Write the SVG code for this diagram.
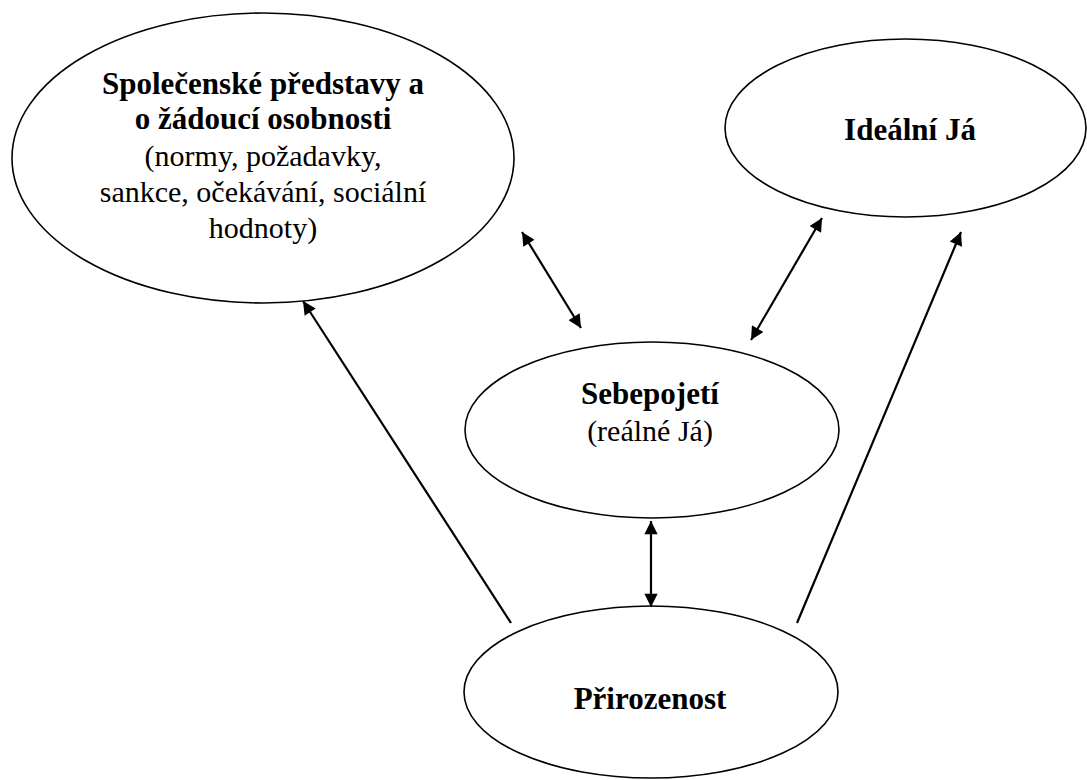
<svg xmlns="http://www.w3.org/2000/svg" width="1087" height="780" viewBox="0 0 1087 780">
  <style>
    .node { fill: #ffffff; stroke: #000000; stroke-width: 1.6; }
    text { font-family: 'Liberation Serif', 'Times New Roman', serif; font-size: 30px; fill: #000000; text-anchor: middle; }
    .b { font-weight: bold; font-size: 31px; }
    .edge { stroke: #000000; stroke-width: 2.2; fill: none; }
  </style>
  <defs>
    <marker id="head" viewBox="0 0 10 10" refX="10" refY="5" markerWidth="7" markerHeight="6" orient="auto-start-reverse">
      <path d="M0,0 L10,5 L0,10 z" fill="#000000"/>
    </marker>
  </defs>

  <rect width="1087" height="780" fill="#ffffff"/>

  <g id="spolecenske">
    <ellipse class="node" cx="263" cy="158" rx="251" ry="145"/>
    <text class="b" x="263" y="94">Společenské představy a</text>
    <text class="b" x="263" y="129">o žádoucí osobnosti</text>
    <text x="263" y="166">(normy, požadavky,</text>
    <text x="263" y="202">sankce, očekávání, sociální</text>
    <text x="263" y="238">hodnoty)</text>
  </g>

  <g id="idealni">
    <ellipse class="node" cx="905.5" cy="128" rx="180.5" ry="89"/>
    <text class="b" x="910" y="140">Ideální Já</text>
  </g>

  <g id="sebepojeti">
    <ellipse class="node" cx="652" cy="430" rx="187" ry="88"/>
    <text class="b" x="650" y="404">Sebepojetí</text>
    <text x="650" y="441">(reálné Já)</text>
  </g>

  <g id="prirozenost">
    <ellipse class="node" cx="651" cy="692" rx="187" ry="86"/>
    <text class="b" x="650" y="709">Přirozenost</text>
  </g>

  <g id="connectors">
    <line class="edge" x1="522" y1="232" x2="581" y2="328" marker-start="url(#head)" marker-end="url(#head)"/>
    <line class="edge" x1="751" y1="340" x2="822" y2="218" marker-start="url(#head)" marker-end="url(#head)"/>
    <line class="edge" x1="651" y1="521" x2="651" y2="607" marker-start="url(#head)" marker-end="url(#head)"/>
    <line class="edge" x1="511" y1="623" x2="303" y2="301" marker-end="url(#head)"/>
    <line class="edge" x1="797" y1="623" x2="961" y2="232" marker-end="url(#head)"/>
  </g>
</svg>
